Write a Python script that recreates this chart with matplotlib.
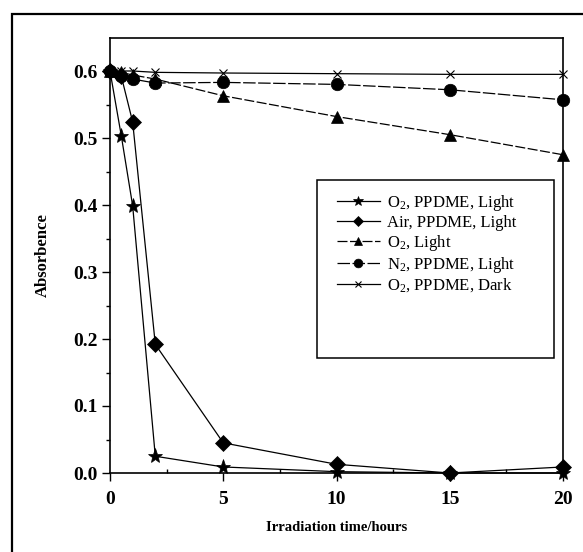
import matplotlib
matplotlib.use("Agg")
import matplotlib.pyplot as plt
from matplotlib.patches import Rectangle

plt.rcParams['font.family'] = ['Liberation Serif', 'DejaVu Serif']
plt.rcParams['mathtext.fontset'] = 'custom'
plt.rcParams['mathtext.rm'] = 'Liberation Serif'
plt.rcParams['mathtext.it'] = 'Liberation Serif'
plt.rcParams['mathtext.bf'] = 'Liberation Serif:bold'

# irradiation time (hours)
hours = [0, 0.5, 1, 2, 5, 10, 15, 20]

# absorbance
o2_ppdme_light = [0.60, 0.503, 0.399, 0.025, 0.009, 0.002, 0.0, 0.0]
air_ppdme_light = [0.60, 0.592, 0.524, 0.192, 0.045, 0.013, 0.0, 0.009]
o2_light = [0.60, 0.598, 0.594, 0.588, 0.563, 0.532, 0.505, 0.475]
n2_ppdme_light = [0.60, 0.592, 0.588, 0.582, 0.583, 0.580, 0.572, 0.557]
o2_ppdme_dark = [0.60, 0.600, 0.600, 0.598, 0.597, 0.596, 0.595, 0.595]

labels = ["O$_2$, PPDME, Light", "Air, PPDME, Light", "O$_2$, Light",
          "N$_2$, PPDME, Light", "O$_2$, PPDME, Dark"]

yticks = [0.0, 0.1, 0.2, 0.3, 0.4, 0.5, 0.6]
xticks = [0, 5, 10, 15, 20]

fig = plt.figure(figsize=(5.83, 5.52), dpi=100)
# outer frame of the scanned figure (only top/left visible)
fig.patches.append(Rectangle((12/583, -0.05), 1.2, (552-14)/552 + 0.05,
                             transform=fig.transFigure, fill=False,
                             lw=1.6, ec='black'))

ax = fig.add_axes([110/583, 1 - 473/552, 453/583, (473-37.5)/552])

series = [
    (o2_ppdme_light, '*', 11, '-'),
    (air_ppdme_light, 'D', 8, '-'),
    (o2_light, '^', 9, (0, (8, 2))),
    (n2_ppdme_light, 'o', 9, (0, (10, 2))),
    (o2_ppdme_dark, 'x', 6, '-'),
]
handles = []
for (vals, mk, ms, ls), lab in zip(series, labels):
    h, = ax.plot(hours, vals, color='black', marker=mk, markersize=ms,
                 linestyle=ls, linewidth=0.9,
                 markeredgewidth=0.8 if mk == 'x' else 0.5,
                 clip_on=False, zorder=3, label=lab)
    handles.append(h)

ax.set_xlim(0, 20)
ax.set_ylim(0, 0.65)
ax.set_xticks(xticks)
ax.set_yticks(yticks)
ax.set_yticklabels([f"{v:.1f}" for v in yticks])
ax.set_yticks([0.05, 0.15, 0.25, 0.35, 0.45, 0.55], minor=True)
ax.set_xticks([2.5, 7.5, 12.5, 17.5], minor=True)
ax.tick_params(axis='both', which='major', direction='out', length=6, width=1,
               labelsize=14)
ax.tick_params(axis='x', which='major', pad=7)
ax.tick_params(axis='y', which='major', pad=3)
ax.tick_params(axis='y', which='minor', direction='out', length=3, width=1)
ax.tick_params(axis='x', which='minor', direction='in', length=3, width=1)
for lab in ax.get_xticklabels() + ax.get_yticklabels():
    lab.set_fontweight('bold')
for sp in ax.spines.values():
    sp.set_linewidth(1.2)

ax.set_xlabel("Irradiation time/hours", fontsize=10.5, fontweight='bold',
              labelpad=9)
ax.set_ylabel("Absorbence", fontsize=12, fontweight='bold', labelpad=16)

leg = ax.legend(handles=handles, loc='upper left',
                bbox_to_anchor=((330-110)/453, 1 - (186-37.5)/435.5),
                frameon=False, fontsize=12, handlelength=2.6, markerscale=0.7,
                handletextpad=0.4, labelspacing=0.12, borderaxespad=0)
# legend frame, taller than the entries as in the original
fig.patches.append(Rectangle((317/583, 1 - 358/552), (554-317)/583, (358-180)/552,
                             transform=fig.transFigure, fill=False,
                             lw=1.1, ec='black', zorder=5))

fig.savefig("out.png", dpi=100)
